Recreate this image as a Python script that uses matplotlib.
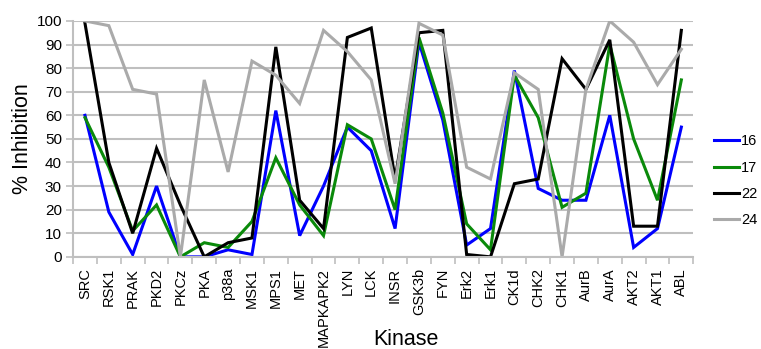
from __future__ import annotations

import matplotlib

matplotlib.use("Agg")
import matplotlib.pyplot as plt
import numpy as np


KINASES = [
    "SRC", "RSK1", "PRAK", "PKD2", "PKCz", "PKA", "p38a", "MSK1", "MPS1", "MET",
    "MAPKAPK2", "LYN", "LCK", "INSR", "GSK3b", "FYN", "Erk2", "Erk1", "CK1d",
    "CHK2", "CHK1", "AurB", "AurA", "AKT2", "AKT1", "ABL",
]

INHIB_16 = [60, 19, 1, 30, 0, 0, 3, 1, 62, 9, 30, 55, 45, 12, 91, 58, 5, 12, 79, 29, 24, 24, 60, 4, 12, 55]
INHIB_17 = [59, 38, 11, 22, 0, 6, 4, 15, 42, 22, 9, 56, 50, 20, 93, 61, 14, 3, 77, 59, 21, 27, 90, 50, 24, 75]
INHIB_22 = [99, 40, 10, 46, 22, 0, 6, 8, 89, 24, 12, 93, 97, 33, 95, 96, 1, 0, 31, 33, 84, 71, 92, 13, 13, 96]
INHIB_24 = [100, 98, 71, 69, 0, 75, 36, 83, 77, 65, 96, 87, 75, 31, 99, 94, 38, 33, 78, 71, 0, 71, 100, 91, 73, 88]

SERIES = [
    ("16", INHIB_16, "#0000ff"),
    ("17", INHIB_17, "#0a8a0a"),
    ("22", INHIB_22, "#000000"),
    ("24", INHIB_24, "#aaaaaa"),
]

GRID = "#bfbfbf"


def main() -> None:
    plt.rcParams["font.family"] = ["Liberation Sans", "DejaVu Sans"]
    fig = plt.figure(figsize=(7.61, 3.49), dpi=100)
    ax = fig.add_axes([0.096, 0.264, 0.815, 0.676])

    x = np.arange(len(KINASES))
    for name, values, color in SERIES:
        ax.plot(x, values, color=color, lw=2.2, label=name, solid_joinstyle="miter")

    ax.set_xlim(-0.5, len(KINASES) - 0.5)
    ax.set_ylim(0, 100)
    ax.set_yticks(range(0, 101, 10))
    ax.yaxis.grid(True, color=GRID, lw=1.5)
    ax.set_axisbelow(True)

    ax.set_xticks(x)
    ax.set_xticklabels(KINASES, rotation=90, fontsize=10.5)
    ax.set_xticks(np.arange(-0.5, len(KINASES)), minor=True)
    ax.tick_params(axis="x", which="major", length=0, pad=8)
    ax.tick_params(axis="x", which="minor", length=5, color=GRID, width=1.2)
    ax.tick_params(axis="y", length=5, color=GRID, width=1.2, labelsize=11, pad=3)

    for side in ("top", "right"):
        ax.spines[side].set_visible(False)
    for side in ("left", "bottom"):
        ax.spines[side].set_color(GRID)
        ax.spines[side].set_linewidth(1.5)

    ax.set_ylabel("% Inhibition", fontsize=15.5, va="center")
    ax.yaxis.set_label_coords(-0.082, 0.5)
    ax.set_xlabel("Kinase", fontsize=15.5, va="center")
    ax.xaxis.set_label_coords(0.536, -0.352)

    ax.legend(
        loc="center left", bbox_to_anchor=(1.034, 0.322), frameon=False,
        fontsize=10.5, handlelength=1.7, handletextpad=0.15, labelspacing=0.85,
        borderaxespad=0, borderpad=0,
    )

    fig.savefig("out.png", dpi=100)
    plt.close(fig)


if __name__ == "__main__":
    main()
